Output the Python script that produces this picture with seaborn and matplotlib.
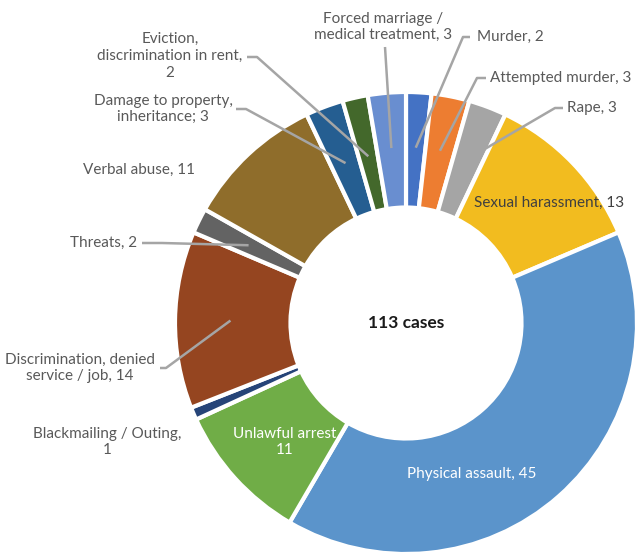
import numpy as np
import matplotlib
matplotlib.use("Agg")
import matplotlib.pyplot as plt
import seaborn as sns

# ---- data (clockwise from 12 o'clock) ----
categories = [
    "Murder", "Attempted murder", "Rape", "Sexual harassment",
    "Physical assault", "Unlawful arrest", "Blackmailing / Outing",
    "Discrimination, denied service / job", "Threats", "Verbal abuse",
    "Damage to property, inheritance", "Eviction, discrimination in rent",
    "Forced marriage / medical treatment",
]
counts = [2, 3, 3, 13, 45, 11, 1, 14, 2, 11, 3, 2, 3]
label_texts = [
    "Murder, 2", "Attempted murder, 3", "Rape, 3", "Sexual harassment, 13",
    "Physical assault, 45", "Unlawful arrest\n11", "Blackmailing / Outing,\n1",
    "Discrimination, denied\nservice / job, 14", "Threats, 2", "Verbal abuse, 11",
    "Damage to property,\ninheritance; 3", "Eviction,\ndiscrimination in rent,\n2",
    "Forced marriage /\nmedical treatment, 3",
]
colors = ["#4472C4", "#ED7D31", "#A5A5A5", "#F2BC1F", "#5B94CB", "#70AD47",
          "#264478", "#954520", "#636363", "#8F6D2B", "#255E91", "#43682B",
          "#698ED0"]
center_text = f"{sum(counts)} cases"

sns.set_theme(style="white")
plt.rcParams["font.family"] = ["Lato", "DejaVu Sans"]

W, H = 638, 555
CX, CY, R = 406, 323, 231

fig = plt.figure(figsize=(W / 100, H / 100), dpi=100)
ax = fig.add_axes([0, 0, 1, 1])

wedges, _ = ax.pie(counts, colors=colors, startangle=90, counterclock=False,
                   radius=1.0, wedgeprops=dict(width=0.5, edgecolor="white", linewidth=3))

ax.set_xlim(-CX / R, (W - CX) / R)
ax.set_ylim(-(H - CY) / R, CY / R)
ax.set_aspect("equal", adjustable="box")
ax.set_position([0, 0, 1, 1])
ax.axis("off")


def px(x, y):
    return ((x - CX) / R, (CY - y) / R)


TXT = "#595959"
LINE = "#A5A5A5"
FS = 11

layout = {
    0: dict(xy=(477, 37), ha="left", anchor=(470, 37), tick=-7, r=0.76),
    1: dict(xy=(490, 78), ha="left", anchor=(486, 78), tick=-9, r=0.76),
    2: dict(xy=(567, 108), ha="left", anchor=(563, 108), tick=-8, r=0.76),
    3: dict(xy=(549, 203), ha="center", color="#404040"),
    4: dict(xy=(472, 474), ha="center", color="white"),
    5: dict(xy=(285, 442), ha="center", color="white"),
    6: dict(xy=(107, 442), ha="center"),
    7: dict(xy=(80, 368), ha="center", anchor=(160, 368), tick=6, r=0.76),
    8: dict(xy=(137, 243), ha="right", anchor=(142, 243), tick=20, r=0.76),
    9: dict(xy=(139, 170), ha="center"),
    10: dict(xy=(163, 109), ha="center", anchor=(236, 109), tick=10, r=0.74),
    11: dict(xy=(170, 56), ha="center", anchor=(247, 57), tick=10, r=0.74),
    12: dict(xy=(383, 27), ha="center", anchor=(385, 47), tick=0, r=0.76),
}

for i, w in enumerate(wedges):
    cfg = layout[i]
    tx, ty = px(*cfg["xy"])
    ax.text(tx, ty, label_texts[i], ha=cfg["ha"], va="center", fontsize=FS,
            color=cfg.get("color", TXT), linespacing=1.25, zorder=5)
    if "anchor" in cfg:
        mid = np.deg2rad((w.theta1 + w.theta2) / 2)
        ex, ey = cfg["r"] * np.cos(mid), cfg["r"] * np.sin(mid)
        a0 = px(*cfg["anchor"])
        a1 = px(cfg["anchor"][0] + cfg["tick"], cfg["anchor"][1])
        ax.plot([a0[0], a1[0], ex], [a0[1], a1[1], ey], color=LINE, lw=1.8,
                solid_capstyle="butt", zorder=4)

ax.text(0, 0, center_text, ha="center", va="center", fontsize=12.5,
        fontweight="bold", color="#1a1a1a")

fig.savefig("out.png", dpi=100, facecolor="white")
